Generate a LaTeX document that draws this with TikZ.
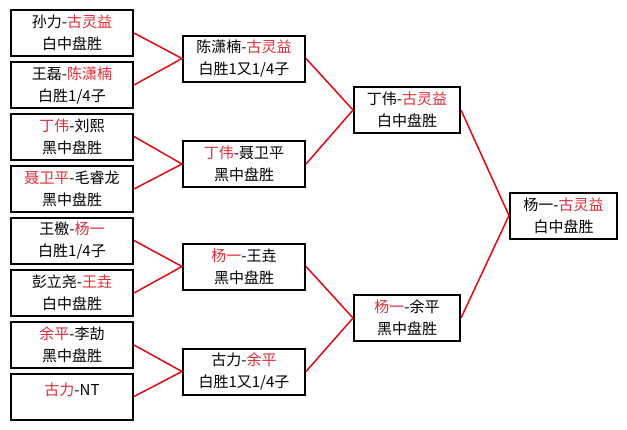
\documentclass[tikz,border=0pt]{standalone}
\usepackage{fontspec}
\setmainfont{Noto Sans CJK SC}
\definecolor{winred}{RGB}{225,45,55}
\definecolor{linkred}{RGB}{225,10,20}
\begin{document}
\begin{tikzpicture}[x=1pt,y=-1pt,
  box/.style={draw=black, line width=2pt, fill=white, inner sep=0pt, align=center,
    font=\fontsize{15}{22}\selectfont, minimum height=46pt},
  wa/.style={box, minimum width=122pt},
  wb/.style={box, minimum width=106pt},
  link/.style={draw=linkred, line width=1.5pt}]
\newcommand\wn[1]{\textcolor{winred}{#1}}
\fill[white] (0,0) rectangle (627,429);
\useasboundingbox (0,0) rectangle (627,429);
% round 1
\node[wa] (a1) at (72,33) {孙力-\wn{古灵益}\\白中盘胜};
\node[wa] (a2) at (72,85) {王磊-\wn{陈潇楠}\\白胜1/4子};
\node[wa] (a3) at (72,136.5) {\wn{丁伟}-刘熙\\黑中盘胜};
\node[wa] (a4) at (72,189) {\wn{聂卫平}-毛睿龙\\黑中盘胜};
\node[wa] (a5) at (72,240.5) {王檄-\wn{杨一}\\白胜1/4子};
\node[wa] (a6) at (72,293) {彭立尧-\wn{王垚}\\白中盘胜};
\node[wa] (a7) at (72,345) {\wn{余平}-李劼\\黑中盘胜};
\node[wa, text height=12pt, text depth=14pt] (a8) at (72,396.5) {\wn{古力}-NT};
% round 2
\node[wa] (b1) at (244,58.5) {陈潇楠-\wn{古灵益}\\白胜1又1/4子};
\node[wa] (b2) at (244,164) {\wn{丁伟}-聂卫平\\黑中盘胜};
\node[wa] (b3) at (244,266.5) {\wn{杨一}-王垚\\黑中盘胜};
\node[wa] (b4) at (244,371.5) {古力-\wn{余平}\\白胜1又1/4子};
% round 3
\node[wb] (c1) at (407,110) {丁伟-\wn{古灵益}\\白中盘胜};
\node[wb] (c2) at (407,318) {\wn{杨一}-余平\\黑中盘胜};
% final
\node[wb, minimum width=107pt] (d1) at (563.5,215.5) {杨一-\wn{古灵益}\\白中盘胜};
% connectors
\draw[link] (a1.east) -- (b1.west) -- (a2.east);
\draw[link] (a3.east) -- (b2.west) -- (a4.east);
\draw[link] (a5.east) -- (b3.west) -- (a6.east);
\draw[link] (a7.east) -- (b4.west) -- (a8.east);
\draw[link] (b1.east) -- (c1.west) -- (b2.east);
\draw[link] (b3.east) -- (c2.west) -- (b4.east);
\draw[link] (c1.east) -- (d1.west) -- (c2.east);
\end{tikzpicture}
\end{document}
